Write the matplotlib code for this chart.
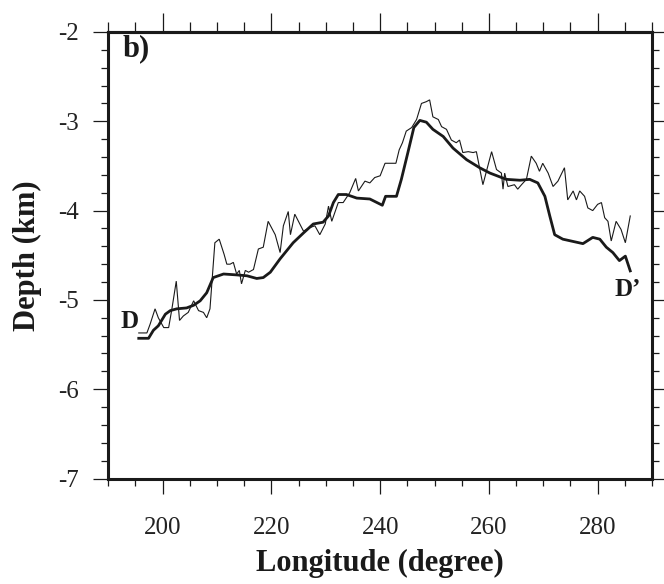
import matplotlib
matplotlib.use("Agg")
import matplotlib.pyplot as plt
from matplotlib.ticker import MultipleLocator, FixedLocator, NullFormatter

plt.rcParams['font.family'] = ['Liberation Serif', 'DejaVu Serif']
plt.rcParams['axes.unicode_minus'] = False

# Smoothed (thick) profile
smooth_lon = [195.6, 197.4, 198.3, 199.2, 200.5, 201.4, 202.6, 204.4, 205.7, 206.9,
              208.1, 209.3, 211.2, 213.6, 215.5, 217.3, 218.5, 219.8, 221.6, 224.0,
              225.9, 227.7, 229.5, 230.5, 231.4, 232.3, 233.8, 235.7, 238.1, 240.4,
              241.0, 243.0, 243.9, 245.1, 246.2, 247.3, 248.5, 249.7, 251.6, 253.4,
              255.9, 258.3, 260.2, 263.2, 265.7, 267.5, 269.0, 270.3, 271.2, 272.1,
              273.6, 277.3, 279.1, 280.4, 281.6, 282.8, 284.0, 285.1, 286.0]
smooth_depth = [-5.43, -5.43, -5.34, -5.29, -5.16, -5.12, -5.10, -5.09, -5.06, -5.01,
                -4.92, -4.75, -4.71, -4.72, -4.73, -4.76, -4.75, -4.69, -4.54, -4.36,
                -4.25, -4.15, -4.13, -4.06, -3.91, -3.82, -3.82, -3.86, -3.87, -3.94,
                -3.84, -3.84, -3.65, -3.35, -3.07, -2.99, -3.01, -3.09, -3.17, -3.30,
                -3.43, -3.52, -3.58, -3.65, -3.66, -3.65, -3.69, -3.84, -4.06, -4.27,
                -4.32, -4.37, -4.30, -4.32, -4.41, -4.47, -4.56, -4.51, -4.675]

# Observed (thin) profile
obs_lon = [195.6, 197.1, 197.7, 198.6, 199.2, 200.2, 201.1, 201.7, 202.5, 203.1,
           203.8, 204.7, 205.7, 206.6, 207.5, 208.1, 208.7, 209.6, 210.4, 211.3,
           211.8, 212.4, 213.0, 213.6, 214.1, 214.5, 215.2, 215.8, 216.7, 217.6,
           218.5, 219.4, 220.7, 221.6, 222.2, 223.1, 223.5, 224.3, 225.9, 227.1,
           228.0, 228.9, 229.9, 230.5, 231.1, 232.3, 233.2, 234.4, 235.5, 236.0,
           237.2, 238.1, 239.0, 240.0, 240.9, 242.9, 243.5, 244.1, 244.8, 245.8,
           246.7, 247.6, 248.5, 249.1, 249.7, 250.7, 251.3, 252.2, 253.1, 254.0,
           254.6, 255.2, 256.2, 257.1, 257.7, 258.9, 260.5, 261.4, 262.3, 262.6,
           262.9, 263.5, 264.7, 265.3, 266.0, 266.9, 267.8, 268.7, 269.3, 269.9,
           270.9, 271.8, 272.7, 273.9, 274.5, 275.5, 276.1, 276.7, 277.6, 278.2,
           279.1, 280.0, 280.7, 281.3, 281.9, 282.5, 283.4, 284.3, 285.1, 286.0]
obs_depth = [-5.37, -5.37, -5.27, -5.10, -5.20, -5.31, -5.31, -5.10, -4.79, -5.23,
             -5.18, -5.14, -5.01, -5.12, -5.14, -5.20, -5.10, -4.36, -4.32, -4.49,
             -4.60, -4.60, -4.58, -4.71, -4.67, -4.82, -4.67, -4.69, -4.66, -4.43,
             -4.41, -4.12, -4.27, -4.47, -4.17, -4.01, -4.27, -4.04, -4.23, -4.19,
             -4.17, -4.27, -4.15, -3.95, -4.12, -3.91, -3.91, -3.80, -3.64, -3.78,
             -3.67, -3.69, -3.63, -3.61, -3.47, -3.47, -3.32, -3.24, -3.11, -3.07,
             -2.98, -2.80, -2.78, -2.76, -2.95, -2.98, -3.06, -3.09, -3.21, -3.24,
             -3.21, -3.35, -3.34, -3.35, -3.34, -3.71, -3.34, -3.54, -3.58, -3.76,
             -3.58, -3.73, -3.71, -3.76, -3.71, -3.65, -3.39, -3.47, -3.56, -3.47,
             -3.58, -3.73, -3.67, -3.52, -3.88, -3.78, -3.88, -3.78, -3.84, -3.97,
             -4.00, -3.93, -3.91, -4.08, -4.12, -4.34, -4.12, -4.21, -4.36, -4.06]

x_major = [200, 220, 240, 260, 280]
y_major = [-7, -6, -5, -4, -3, -2]

fig = plt.figure(figsize=(6.64, 5.84), dpi=100)
ax = fig.add_axes([108.3/664, 1 - 478.5/584, (652 - 108.3)/664, (478.5 - 32)/584])

ink = '#1a1a1a'
ax.plot(obs_lon, obs_depth, color=ink, lw=0.8, solid_joinstyle='miter')
ax.plot(smooth_lon, smooth_depth, color=ink, lw=2.0, solid_joinstyle='round')

ax.set_xlim(190, 290)
ax.set_ylim(-7, -2)
ax.xaxis.set_major_locator(FixedLocator(x_major))
ax.xaxis.set_minor_locator(MultipleLocator(5))
ax.yaxis.set_major_locator(FixedLocator(y_major))
ax.yaxis.set_minor_locator(MultipleLocator(0.2))
ax.set_yticklabels([str(v) for v in y_major])

for s in ax.spines.values():
    s.set_linewidth(2.2)
    s.set_color(ink)

ax.tick_params(axis='both', which='both', direction='out', color=ink, width=0.9,
               labelsize=18, labelcolor='#222222')
ax.tick_params(axis='x', which='both', top=False, bottom=True, labeltop=False)
ax.tick_params(axis='y', which='both', left=True, right=True, labelright=False)
ax.tick_params(axis='x', which='major', length=11, pad=17)
ax.tick_params(axis='x', which='minor', length=5)
ax.tick_params(axis='y', which='major', length=11, pad=10)
ax.tick_params(axis='y', which='minor', length=5)

# top axis ticks (slightly longer, no labels)
top = ax.secondary_xaxis('top')
top.xaxis.set_major_locator(FixedLocator(x_major))
top.xaxis.set_minor_locator(MultipleLocator(5))
top.xaxis.set_major_formatter(NullFormatter())
top.tick_params(which='both', direction='out', color=ink, width=0.9)
top.tick_params(which='major', length=13.5)
top.tick_params(which='minor', length=7)
top.spines['top'].set_linewidth(2.2)
top.spines['top'].set_color(ink)

ax.set_xlabel('Longitude (degree)', fontsize=22, fontweight='bold', color=ink, labelpad=7)
ax.set_ylabel('Depth (km)', fontsize=22, fontweight='bold', color=ink, labelpad=12)

ax.text(0.026, 0.962, 'b)', transform=ax.transAxes, fontsize=22, fontweight='bold',
        color=ink, ha='left', va='center')
ax.text(194.0, -5.24, 'D', fontsize=18, fontweight='bold', color=ink, ha='center', va='center')
ax.text(285.5, -4.88, 'D\u2019', fontsize=18, fontweight='bold', color=ink, ha='center', va='center')

fig.savefig('out.png', dpi=100)
